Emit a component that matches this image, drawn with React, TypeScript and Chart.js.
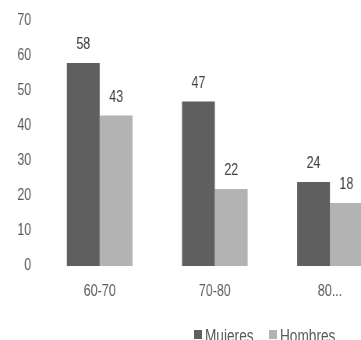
import React, { useEffect, useRef } from "react";
import { Chart, registerables } from "chart.js";

Chart.register(...registerables);

const categories = ["60-70", "70-80", "80..."];
const mujeres = [58, 47, 24];
const hombres = [43, 22, 18];
const seriesNames = ["Mujeres", "Hombres"];
const seriesColors = ["#5f5f5f", "#b3b3b3"];
const yMin = 0;
const yMax = 70;
const yStep = 10;

const FONT = '"Liberation Sans", Arial, sans-serif';
const TEXT = "#595959";
// the reference chart is horizontally condensed; draw it the same way
const SQUEEZE = 0.78;
const CSS_W = 400;
const CANVAS_W = Math.round(CSS_W / SQUEEZE);
const H = 340;

const valueLabels = {
  id: "valueLabels",
  afterDatasetsDraw(chart: any) {
    const ctx = chart.ctx;
    ctx.save();
    ctx.font = `16px ${FONT}`;
    ctx.fillStyle = "#404040";
    ctx.textAlign = "center";
    ctx.textBaseline = "alphabetic";
    chart.data.datasets.forEach((ds: any, i: number) => {
      const meta = chart.getDatasetMeta(i);
      meta.data.forEach((el: any, j: number) => {
        ctx.fillText(String(ds.data[j]), el.x, el.y - 14);
      });
    });
    ctx.restore();
  },
};

export default function App() {
  const ref = useRef<HTMLCanvasElement | null>(null);

  useEffect(() => {
    if (!ref.current) return;
    const chart = new Chart(ref.current, {
      type: "bar",
      data: {
        labels: categories,
        datasets: [
          { label: seriesNames[0], data: mujeres, backgroundColor: seriesColors[0], borderWidth: 0 },
          { label: seriesNames[1], data: hombres, backgroundColor: seriesColors[1], borderWidth: 0 },
        ],
      },
      options: {
        responsive: false,
        animation: false,
        devicePixelRatio: 1,
        layout: {
          padding: { top: 21, right: CANVAS_W - Math.round(388 / SQUEEZE), bottom: 0, left: 0 },
        },
        datasets: { bar: { categoryPercentage: 0.57, barPercentage: 1 } },
        plugins: {
          legend: { display: false },
          tooltip: { enabled: false },
        },
        scales: {
          x: {
            grid: { display: false, drawTicks: false },
            border: { display: false },
            ticks: { color: TEXT, font: { family: FONT, size: 16 }, padding: 16, autoSkip: false, maxRotation: 0 },
            afterFit: (s: any) => {
              s.height = 74;
            },
          },
          y: {
            min: yMin,
            max: yMax,
            grid: { display: false, drawTicks: true, tickLength: 8 },
            border: { display: false },
            ticks: { stepSize: yStep, color: TEXT, font: { family: FONT, size: 16 }, padding: 6 },
            afterFit: (s: any) => {
              s.width = Math.round(42 / SQUEEZE);
            },
          },
        },
      },
      plugins: [valueLabels],
    });
    return () => chart.destroy();
  }, []);

  const legendText = {
    position: "absolute" as const,
    top: 326,
    fontFamily: FONT,
    fontSize: 17.5,
    lineHeight: "20px",
    color: TEXT,
    whiteSpace: "nowrap" as const,
    transform: `scaleX(${SQUEEZE})`,
    transformOrigin: "left top",
  };

  return (
    <div
      style={{
        position: "fixed",
        left: 0,
        top: 0,
        width: 361,
        height: H,
        overflow: "hidden",
        background: "#fff",
      }}
    >
      <canvas ref={ref} width={CANVAS_W} height={H} style={{ display: "block", width: CSS_W, height: H }} />
      <span style={{ position: "absolute", left: 194, top: 330, width: 8, height: 9, background: seriesColors[0] }} />
      <span style={{ ...legendText, left: 205 }}>{seriesNames[0]}</span>
      <span style={{ position: "absolute", left: 269, top: 330, width: 8, height: 9, background: seriesColors[1] }} />
      <span style={{ ...legendText, left: 280 }}>{seriesNames[1]}</span>
    </div>
  );
}
